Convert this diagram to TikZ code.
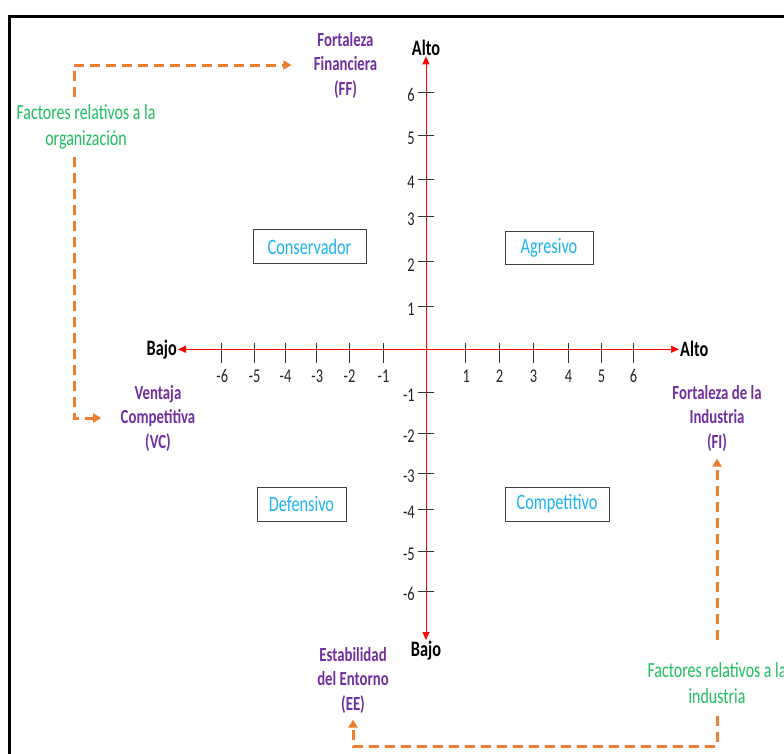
\documentclass[tikz,border=0pt]{standalone}
\usepackage{fontspec}
\setmainfont{Carlito}[FakeStretch=0.74]
\usetikzlibrary{arrows.meta}
\definecolor{axred}{HTML}{FF0000}
\definecolor{orng}{HTML}{ED7D31}
\definecolor{purp}{HTML}{7030A0}
\definecolor{grn}{HTML}{1FBF5F}
\definecolor{cyn}{HTML}{1CB4F0}
\begin{document}
\begin{tikzpicture}[x=1pt,y=-1pt,
  axis/.style={draw=axred, line width=1pt, {Triangle[length=8pt,width=7pt]}-{Triangle[length=8pt,width=7pt]}},
  tickline/.style={draw=black!80, line width=1pt},
  num/.style={font=\fontsize{19.5}{22}\selectfont, text=black!85, inner sep=1pt},
  quad/.style={draw=black!75, line width=1pt, text=cyn, font=\fontsize{22}{24}\selectfont, minimum height=34pt, inner sep=0pt},
  dim/.style={text=purp, font=\bfseries\fontsize{20}{24.5}\selectfont, align=center},
  fact/.style={text=grn, font=\fontsize{21.5}{26.5}\selectfont, align=center},
  lvl/.style={font=\bfseries\fontsize{22}{24}\selectfont, inner sep=1pt},
  flow/.style={draw=orng, line width=3pt, dash pattern=on 10pt off 6pt, -{Triangle[length=8pt,width=9pt]}}]
\useasboundingbox (0,0) rectangle (784,753);
\fill[white] (0,0) rectangle (784,753);
% frame
\draw[line width=3pt] (9,800) -- (9,16) -- (800,16);

% axis labels
\node[lvl, anchor=base] (altoT) at (426,55) {Alto};
\node[lvl, anchor=north] (bajoB) at (426,640) {Bajo};
\node[lvl, anchor=east] (bajoL) at (178,349.3) {Bajo};
\node[lvl, anchor=west] (altoR) at (679,349.3) {Alto};

% axes
\draw[axis] (bajoL.east) -- (altoR.west);
\draw[axis] (bajoB.north) -- (altoT.south);

% vertical ticks
\foreach \v/\y in {6/92,5/135,4/179,3/216.7,2/261.7,1/306.7,-1/392.7,-2/433,-3/473,-4/509,-5/551,-6/591}{
  \draw[tickline] (417.7,\y) -- (433.7,\y);
  \node[num, anchor=east] (vy\v) at (416,\y+3) {\v};
}
% horizontal ticks
\foreach \v/\x in {-6/221.7,-5/254,-4/285,-3/316.7,-2/349,-1/383,1/465.7,2/499,3/533,4/568,5/601,6/633}{
  \draw[tickline] (\x,342.7) -- (\x,363);
  \node[num] (hx\v) at (\x+0.5,376) {\v};
}

% quadrant boxes
\node[quad, minimum width=113pt] (cons) at (309.5,246.5) {Conservador};
\node[quad, minimum width=88pt, minimum height=33pt] (agre) at (549,247.5) {Agresivo};
\node[quad, minimum width=89pt] (defe) at (301.5,504) {Defensivo};
\node[quad, minimum width=104pt] (comp) at (557,504) {Competitivo};

% dimension labels
\node[dim] (FF) at (345.5,65) {Fortaleza\\Financiera\\(FF)};
\node[dim] (VC) at (158,418) {Ventaja\\Competitiva\\(VC)};
\node[dim] (FI) at (717,418) {Fortaleza de la\\Industria\\(FI)};
\node[dim] (EE) at (353,680) {Estabilidad\\del Entorno\\(EE)};

% factor labels
\node[fact] (org) at (86,127) {Factores relativos a la\\organización};
\node[fact] (ind) at (717,683) {Factores relativos a la\\industria};

% dashed connectors
\coordinate (o1) at (74,97);
\coordinate (o2) at (74,157);
\coordinate (i1) at (717,640);
\coordinate (i2) at (717,716);
\coordinate (cbr) at (717,746);
\draw[flow, shorten >=19pt] (o1) |- (FF);
\draw[flow, shorten >=16pt] (o2) |- (VC);
\draw[flow, shorten >=4pt] (i1) -- (FI);
\draw[flow, shorten >=3pt] (i2) -- (cbr) -| (EE);
\end{tikzpicture}
\end{document}
